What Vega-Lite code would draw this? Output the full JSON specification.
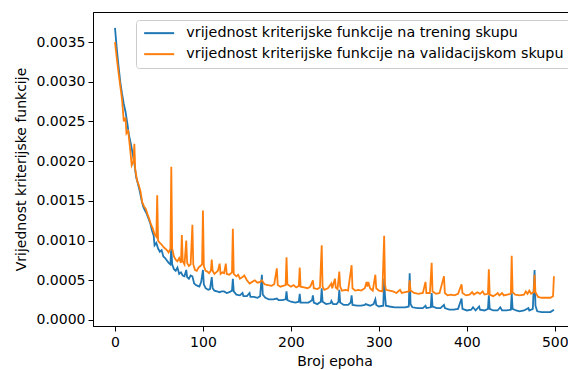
{
  "$schema": "https://vega.github.io/schema/vega-lite/v6.json",
  "autosize": {"type": "none"},
  "width": 475,
  "height": 314,
  "padding": {"left": 93, "top": 12, "right": 0, "bottom": 44},
  "background": "white",
  "config": {
    "font": "DejaVu Sans",
    "view": {"stroke": "black", "strokeWidth": 1},
    "axis": {
      "grid": false,
      "domainColor": "black",
      "tickColor": "black",
      "tickSize": 5,
      "labelFont": "DejaVu Sans",
      "labelFontSize": 14,
      "labelColor": "black",
      "titleFont": "DejaVu Sans",
      "titleFontSize": 14,
      "titleFontWeight": "normal",
      "titleColor": "black"
    }
  },
  "data": {
    "values": [
      {"k":"t","e":0,"v":0.00368},{"k":"t","e":2,"v":0.00342},{"k":"t","e":4,"v":0.0032},{"k":"t","e":6,"v":0.003},{"k":"t","e":8,"v":0.00285},{"k":"t","e":10,"v":0.00272},{"k":"t","e":12,"v":0.00262},{"k":"t","e":14,"v":0.00248},{"k":"t","e":16,"v":0.00232},{"k":"t","e":18,"v":0.00222},{"k":"t","e":20,"v":0.0021},{"k":"t","e":22,"v":0.00198},{"k":"t","e":24,"v":0.0018},{"k":"t","e":26,"v":0.00172},{"k":"t","e":28,"v":0.00163},{"k":"t","e":30,"v":0.00152},{"k":"t","e":32,"v":0.00143},{"k":"t","e":34,"v":0.00138},{"k":"t","e":36,"v":0.00134},{"k":"t","e":38,"v":0.00128},{"k":"t","e":40,"v":0.00122},{"k":"t","e":42,"v":0.00113},{"k":"t","e":44,"v":0.00106},{"k":"t","e":45,"v":0.00094},{"k":"t","e":47,"v":0.00097},{"k":"t","e":49,"v":0.0009},{"k":"t","e":51,"v":0.00086},{"k":"t","e":53,"v":0.00088},{"k":"t","e":55,"v":0.0008},{"k":"t","e":57,"v":0.00078},{"k":"t","e":59,"v":0.00075},{"k":"t","e":61,"v":0.00072},{"k":"t","e":63,"v":0.0007},{"k":"t","e":64,"v":0.00092},{"k":"t","e":65,"v":0.0007},{"k":"t","e":67,"v":0.00064},{"k":"t","e":69,"v":0.00062},{"k":"t","e":71,"v":0.00066},{"k":"t","e":73,"v":0.00058},{"k":"t","e":75,"v":0.0006},{"k":"t","e":77,"v":0.00056},{"k":"t","e":79,"v":0.00055},{"k":"t","e":81,"v":0.00063},{"k":"t","e":82,"v":0.00054},{"k":"t","e":84,"v":0.00052},{"k":"t","e":86,"v":0.00056},{"k":"t","e":88,"v":0.00055},{"k":"t","e":90,"v":0.00046},{"k":"t","e":92,"v":0.00044},{"k":"t","e":94,"v":0.00043},{"k":"t","e":96,"v":0.00042},{"k":"t","e":98,"v":0.00048},{"k":"t","e":100,"v":0.00063},{"k":"t","e":101,"v":0.00045},{"k":"t","e":103,"v":0.0004},{"k":"t","e":106,"v":0.00038},{"k":"t","e":108,"v":0.00039},{"k":"t","e":110,"v":0.00054},{"k":"t","e":111,"v":0.0004},{"k":"t","e":113,"v":0.00037},{"k":"t","e":116,"v":0.00036},{"k":"t","e":119,"v":0.00035},{"k":"t","e":121,"v":0.00036},{"k":"t","e":124,"v":0.00036},{"k":"t","e":127,"v":0.00034},{"k":"t","e":130,"v":0.00035},{"k":"t","e":133,"v":0.00037},{"k":"t","e":134,"v":0.00052},{"k":"t","e":135,"v":0.00036},{"k":"t","e":138,"v":0.00032},{"k":"t","e":142,"v":0.00031},{"k":"t","e":145,"v":0.00034},{"k":"t","e":146,"v":0.0003},{"k":"t","e":150,"v":0.0003},{"k":"t","e":153,"v":0.00034},{"k":"t","e":154,"v":0.00029},{"k":"t","e":158,"v":0.00029},{"k":"t","e":162,"v":0.00028},{"k":"t","e":165,"v":0.0003},{"k":"t","e":167,"v":0.00057},{"k":"t","e":168,"v":0.00032},{"k":"t","e":171,"v":0.00028},{"k":"t","e":175,"v":0.00026},{"k":"t","e":180,"v":0.00026},{"k":"t","e":184,"v":0.00027},{"k":"t","e":186,"v":0.00025},{"k":"t","e":190,"v":0.00025},{"k":"t","e":194,"v":0.00026},{"k":"t","e":195,"v":0.00036},{"k":"t","e":196,"v":0.00025},{"k":"t","e":200,"v":0.00023},{"k":"t","e":205,"v":0.00022},{"k":"t","e":209,"v":0.00023},{"k":"t","e":210,"v":0.00033},{"k":"t","e":211,"v":0.00022},{"k":"t","e":215,"v":0.00022},{"k":"t","e":220,"v":0.00022},{"k":"t","e":224,"v":0.00025},{"k":"t","e":225,"v":0.00031},{"k":"t","e":226,"v":0.00022},{"k":"t","e":230,"v":0.0002},{"k":"t","e":234,"v":0.00023},{"k":"t","e":235,"v":0.0004},{"k":"t","e":236,"v":0.00023},{"k":"t","e":240,"v":0.0002},{"k":"t","e":245,"v":0.00021},{"k":"t","e":246,"v":0.00024},{"k":"t","e":248,"v":0.0002},{"k":"t","e":252,"v":0.0002},{"k":"t","e":254,"v":0.00023},{"k":"t","e":255,"v":0.00038},{"k":"t","e":256,"v":0.00022},{"k":"t","e":260,"v":0.00019},{"k":"t","e":265,"v":0.00019},{"k":"t","e":268,"v":0.00022},{"k":"t","e":269,"v":0.00031},{"k":"t","e":270,"v":0.00019},{"k":"t","e":275,"v":0.00018},{"k":"t","e":280,"v":0.00018},{"k":"t","e":284,"v":0.00019},{"k":"t","e":285,"v":0.0002},{"k":"t","e":290,"v":0.00018},{"k":"t","e":294,"v":0.0002},{"k":"t","e":296,"v":0.00026},{"k":"t","e":297,"v":0.00019},{"k":"t","e":300,"v":0.00017},{"k":"t","e":305,"v":0.00018},{"k":"t","e":306,"v":0.00052},{"k":"t","e":307,"v":0.0003},{"k":"t","e":308,"v":0.00018},{"k":"t","e":312,"v":0.00017},{"k":"t","e":318,"v":0.00016},{"k":"t","e":324,"v":0.00016},{"k":"t","e":330,"v":0.00016},{"k":"t","e":334,"v":0.00017},{"k":"t","e":335,"v":0.00059},{"k":"t","e":336,"v":0.0002},{"k":"t","e":338,"v":0.00016},{"k":"t","e":344,"v":0.00015},{"k":"t","e":350,"v":0.00015},{"k":"t","e":353,"v":0.00018},{"k":"t","e":354,"v":0.00015},{"k":"t","e":359,"v":0.00016},{"k":"t","e":360,"v":0.00034},{"k":"t","e":361,"v":0.00017},{"k":"t","e":366,"v":0.00015},{"k":"t","e":370,"v":0.00015},{"k":"t","e":374,"v":0.00019},{"k":"t","e":375,"v":0.00015},{"k":"t","e":380,"v":0.00013},{"k":"t","e":385,"v":0.00013},{"k":"t","e":390,"v":0.00014},{"k":"t","e":394,"v":0.00027},{"k":"t","e":395,"v":0.00014},{"k":"t","e":400,"v":0.00012},{"k":"t","e":405,"v":0.00013},{"k":"t","e":407,"v":0.00016},{"k":"t","e":410,"v":0.00012},{"k":"t","e":414,"v":0.00017},{"k":"t","e":415,"v":0.00013},{"k":"t","e":420,"v":0.00012},{"k":"t","e":424,"v":0.00014},{"k":"t","e":425,"v":0.00031},{"k":"t","e":426,"v":0.00014},{"k":"t","e":430,"v":0.00012},{"k":"t","e":435,"v":0.00012},{"k":"t","e":438,"v":0.00016},{"k":"t","e":440,"v":0.00012},{"k":"t","e":445,"v":0.00012},{"k":"t","e":450,"v":0.00013},{"k":"t","e":451,"v":0.00034},{"k":"t","e":452,"v":0.00014},{"k":"t","e":456,"v":0.00012},{"k":"t","e":460,"v":0.00011},{"k":"t","e":465,"v":0.00012},{"k":"t","e":470,"v":0.00015},{"k":"t","e":471,"v":0.00012},{"k":"t","e":475,"v":0.00014},{"k":"t","e":477,"v":0.00063},{"k":"t","e":478,"v":0.00018},{"k":"t","e":480,"v":0.00011},{"k":"t","e":485,"v":0.0001},{"k":"t","e":490,"v":0.0001},{"k":"t","e":495,"v":0.0001},{"k":"t","e":499,"v":0.00013},
      {"k":"v","e":0,"v":0.0035},{"k":"v","e":2,"v":0.0033},{"k":"v","e":4,"v":0.00312},{"k":"v","e":6,"v":0.00295},{"k":"v","e":8,"v":0.00278},{"k":"v","e":10,"v":0.0025},{"k":"v","e":12,"v":0.00255},{"k":"v","e":13,"v":0.00235},{"k":"v","e":15,"v":0.00238},{"k":"v","e":17,"v":0.00218},{"k":"v","e":19,"v":0.00195},{"k":"v","e":21,"v":0.002},{"k":"v","e":22,"v":0.00222},{"k":"v","e":23,"v":0.0019},{"k":"v","e":25,"v":0.00176},{"k":"v","e":27,"v":0.0017},{"k":"v","e":29,"v":0.00162},{"k":"v","e":31,"v":0.00148},{"k":"v","e":33,"v":0.00143},{"k":"v","e":35,"v":0.0014},{"k":"v","e":37,"v":0.00133},{"k":"v","e":39,"v":0.00127},{"k":"v","e":41,"v":0.0012},{"k":"v","e":43,"v":0.00115},{"k":"v","e":45,"v":0.00108},{"k":"v","e":47,"v":0.00105},{"k":"v","e":48,"v":0.00157},{"k":"v","e":49,"v":0.001},{"k":"v","e":51,"v":0.00097},{"k":"v","e":53,"v":0.00095},{"k":"v","e":55,"v":0.00092},{"k":"v","e":57,"v":0.0009},{"k":"v","e":59,"v":0.00088},{"k":"v","e":61,"v":0.00085},{"k":"v","e":63,"v":0.0009},{"k":"v","e":64,"v":0.00193},{"k":"v","e":65,"v":0.0009},{"k":"v","e":67,"v":0.0008},{"k":"v","e":69,"v":0.00076},{"k":"v","e":71,"v":0.00074},{"k":"v","e":73,"v":0.00078},{"k":"v","e":75,"v":0.00072},{"k":"v","e":76,"v":0.00107},{"k":"v","e":77,"v":0.00074},{"k":"v","e":79,"v":0.0007},{"k":"v","e":81,"v":0.001},{"k":"v","e":82,"v":0.00072},{"k":"v","e":84,"v":0.00068},{"k":"v","e":86,"v":0.0007},{"k":"v","e":88,"v":0.0012},{"k":"v","e":89,"v":0.0007},{"k":"v","e":91,"v":0.00063},{"k":"v","e":93,"v":0.00062},{"k":"v","e":95,"v":0.00066},{"k":"v","e":97,"v":0.00068},{"k":"v","e":99,"v":0.0007},{"k":"v","e":100,"v":0.00138},{"k":"v","e":101,"v":0.00068},{"k":"v","e":103,"v":0.00062},{"k":"v","e":105,"v":0.00061},{"k":"v","e":107,"v":0.00059},{"k":"v","e":109,"v":0.00062},{"k":"v","e":110,"v":0.00076},{"k":"v","e":111,"v":0.00062},{"k":"v","e":113,"v":0.00058},{"k":"v","e":115,"v":0.0006},{"k":"v","e":117,"v":0.00062},{"k":"v","e":119,"v":0.00071},{"k":"v","e":120,"v":0.00058},{"k":"v","e":122,"v":0.0006},{"k":"v","e":124,"v":0.00059},{"k":"v","e":126,"v":0.00071},{"k":"v","e":127,"v":0.00058},{"k":"v","e":130,"v":0.00057},{"k":"v","e":133,"v":0.0006},{"k":"v","e":134,"v":0.00115},{"k":"v","e":135,"v":0.00058},{"k":"v","e":138,"v":0.00055},{"k":"v","e":140,"v":0.00057},{"k":"v","e":142,"v":0.00052},{"k":"v","e":145,"v":0.00054},{"k":"v","e":147,"v":0.00056},{"k":"v","e":150,"v":0.0005},{"k":"v","e":153,"v":0.00046},{"k":"v","e":156,"v":0.00048},{"k":"v","e":159,"v":0.0005},{"k":"v","e":162,"v":0.00047},{"k":"v","e":165,"v":0.00048},{"k":"v","e":167,"v":0.0005},{"k":"v","e":170,"v":0.00045},{"k":"v","e":174,"v":0.00044},{"k":"v","e":178,"v":0.00043},{"k":"v","e":181,"v":0.00045},{"k":"v","e":184,"v":0.00065},{"k":"v","e":185,"v":0.00044},{"k":"v","e":188,"v":0.00042},{"k":"v","e":191,"v":0.00043},{"k":"v","e":194,"v":0.00044},{"k":"v","e":195,"v":0.00079},{"k":"v","e":196,"v":0.00045},{"k":"v","e":200,"v":0.00042},{"k":"v","e":203,"v":0.00044},{"k":"v","e":206,"v":0.00041},{"k":"v","e":209,"v":0.00043},{"k":"v","e":210,"v":0.00066},{"k":"v","e":211,"v":0.00042},{"k":"v","e":215,"v":0.00041},{"k":"v","e":219,"v":0.0004},{"k":"v","e":222,"v":0.00042},{"k":"v","e":225,"v":0.0005},{"k":"v","e":226,"v":0.0004},{"k":"v","e":230,"v":0.00039},{"k":"v","e":233,"v":0.00041},{"k":"v","e":235,"v":0.00094},{"k":"v","e":236,"v":0.00042},{"k":"v","e":238,"v":0.00038},{"k":"v","e":242,"v":0.0004},{"k":"v","e":246,"v":0.00046},{"k":"v","e":247,"v":0.0004},{"k":"v","e":250,"v":0.00052},{"k":"v","e":251,"v":0.00041},{"k":"v","e":253,"v":0.00039},{"k":"v","e":255,"v":0.00061},{"k":"v","e":256,"v":0.00042},{"k":"v","e":258,"v":0.00037},{"k":"v","e":262,"v":0.00038},{"k":"v","e":265,"v":0.00037},{"k":"v","e":269,"v":0.00069},{"k":"v","e":270,"v":0.0004},{"k":"v","e":273,"v":0.00037},{"k":"v","e":277,"v":0.00038},{"k":"v","e":280,"v":0.00037},{"k":"v","e":284,"v":0.0004},{"k":"v","e":286,"v":0.00048},{"k":"v","e":287,"v":0.00042},{"k":"v","e":288,"v":0.00048},{"k":"v","e":290,"v":0.0004},{"k":"v","e":293,"v":0.00037},{"k":"v","e":296,"v":0.00057},{"k":"v","e":297,"v":0.0004},{"k":"v","e":300,"v":0.00037},{"k":"v","e":304,"v":0.00036},{"k":"v","e":306,"v":0.00106},{"k":"v","e":307,"v":0.00045},{"k":"v","e":308,"v":0.00038},{"k":"v","e":312,"v":0.00037},{"k":"v","e":316,"v":0.00036},{"k":"v","e":320,"v":0.00034},{"k":"v","e":324,"v":0.00038},{"k":"v","e":326,"v":0.00034},{"k":"v","e":330,"v":0.00035},{"k":"v","e":334,"v":0.00036},{"k":"v","e":335,"v":0.0005},{"k":"v","e":336,"v":0.00037},{"k":"v","e":340,"v":0.00034},{"k":"v","e":345,"v":0.00033},{"k":"v","e":350,"v":0.00034},{"k":"v","e":353,"v":0.00048},{"k":"v","e":354,"v":0.00034},{"k":"v","e":358,"v":0.00034},{"k":"v","e":360,"v":0.00072},{"k":"v","e":361,"v":0.00036},{"k":"v","e":365,"v":0.00033},{"k":"v","e":369,"v":0.00034},{"k":"v","e":374,"v":0.00055},{"k":"v","e":375,"v":0.00034},{"k":"v","e":378,"v":0.00031},{"k":"v","e":382,"v":0.00032},{"k":"v","e":386,"v":0.00031},{"k":"v","e":390,"v":0.00033},{"k":"v","e":394,"v":0.00045},{"k":"v","e":395,"v":0.00034},{"k":"v","e":399,"v":0.00031},{"k":"v","e":403,"v":0.00032},{"k":"v","e":406,"v":0.00035},{"k":"v","e":408,"v":0.00032},{"k":"v","e":412,"v":0.00035},{"k":"v","e":415,"v":0.00033},{"k":"v","e":418,"v":0.00036},{"k":"v","e":420,"v":0.00032},{"k":"v","e":424,"v":0.00033},{"k":"v","e":425,"v":0.00064},{"k":"v","e":426,"v":0.00032},{"k":"v","e":430,"v":0.0003},{"k":"v","e":433,"v":0.00032},{"k":"v","e":435,"v":0.00034},{"k":"v","e":437,"v":0.00031},{"k":"v","e":440,"v":0.00034},{"k":"v","e":442,"v":0.00031},{"k":"v","e":446,"v":0.00032},{"k":"v","e":450,"v":0.00033},{"k":"v","e":451,"v":0.00081},{"k":"v","e":452,"v":0.00035},{"k":"v","e":455,"v":0.00032},{"k":"v","e":460,"v":0.00031},{"k":"v","e":465,"v":0.00032},{"k":"v","e":467,"v":0.00036},{"k":"v","e":469,"v":0.00033},{"k":"v","e":471,"v":0.00037},{"k":"v","e":473,"v":0.00033},{"k":"v","e":476,"v":0.00035},{"k":"v","e":477,"v":0.00057},{"k":"v","e":478,"v":0.00035},{"k":"v","e":481,"v":0.00029},{"k":"v","e":485,"v":0.00028},{"k":"v","e":490,"v":0.00028},{"k":"v","e":495,"v":0.00028},{"k":"v","e":498,"v":0.0003},{"k":"v","e":499,"v":0.00055}
    ]
  },
  "mark": {"type": "line", "strokeWidth": 1.8, "clip": true},
  "encoding": {
    "x": {
      "field": "e", "type": "quantitative",
      "scale": {"domain": [-25, 515], "nice": false, "zero": false},
      "axis": {"values": [0, 100, 200, 300, 400, 500], "title": "Broj epoha", "titleX": 241.5, "labelPadding": 4, "titlePadding": 5}
    },
    "y": {
      "field": "v", "type": "quantitative",
      "scale": {"domain": [-0.0000756, 0.003879], "nice": false, "zero": false},
      "axis": {"values": [0, 0.0005, 0.001, 0.0015, 0.002, 0.0025, 0.003, 0.0035], "format": ".4f", "title": "Vrijednost kriterijske funkcije", "labelPadding": 3, "titlePadding": 8}
    },
    "color": {
      "field": "k", "type": "nominal",
      "scale": {"domain": ["t", "v"], "range": ["#1f77b4", "#ff7f0e"]},
      "legend": {
        "title": null,
        "orient": "none",
        "legendX": 43,
        "legendY": 8,
        "direction": "vertical",
        "fillColor": "white",
        "strokeColor": "#cccccc",
        "cornerRadius": 3,
        "padding": 6,
        "rowPadding": 6,
        "symbolType": "M-1,0H5",
        "symbolSize": 100,
        "symbolStrokeWidth": 2,
        "labelOffset": 30,
        "labelFont": "DejaVu Sans",
        "labelFontSize": 14.3,
        "labelColor": "black",
        "labelLimit": 500,
        "labelExpr": "datum.value == 't' ? 'vrijednost kriterijske funkcije na trening skupu' : 'vrijednost kriterijske funkcije na validacijskom skupu'"
      }
    }
  }
}
